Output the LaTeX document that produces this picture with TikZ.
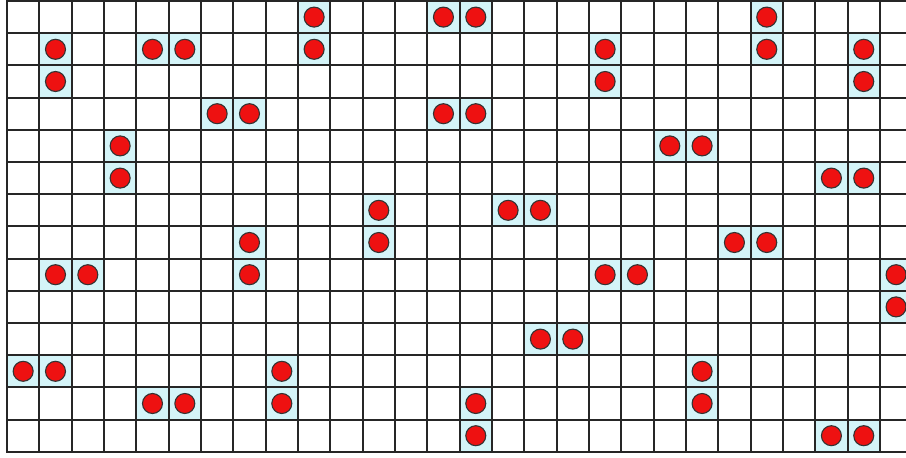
\documentclass[tikz,border=0pt]{standalone}
\definecolor{cellcyan}{HTML}{D4F4F8}
\definecolor{dotred}{HTML}{EE1111}
\tikzset{
  gridline/.style={line width=2pt, black!85},
  hlcell/.style={fill=cellcyan, draw=none},
  dot/.style={circle, fill=dotred, draw=black!80, line width=1.1pt, minimum size=20pt, inner sep=0pt}
}
\begin{document}
\begin{tikzpicture}[x=1pt,y=-1pt]
\useasboundingbox (0,0) rectangle (906,458);
\fill[white] (0,0) rectangle (906,458);
\def\xo{7}\def\dx{32.33}\def\yo{1}\def\dy{32.2}
\def\cells{9/0,9/1,23/0,23/1,1/1,1/2,18/1,18/2,26/1,26/2,3/4,3/5,11/6,11/7,7/7,7/8,27/8,27/9,8/11,8/12,21/11,21/12,14/12,14/13,
13/0,14/0,4/1,5/1,6/3,7/3,13/3,14/3,20/4,21/4,25/5,26/5,15/6,16/6,22/7,23/7,1/8,2/8,18/8,19/8,16/10,17/10,0/11,1/11,4/12,5/12,25/13,26/13}
\begin{scope}
\clip (0,0) rectangle (906,458);
\foreach \c/\r in \cells {
  \fill[hlcell] ({\xo+\c*\dx},{\yo+\r*\dy}) rectangle ({\xo+(\c+1)*\dx},{\yo+(\r+1)*\dy});
}
\foreach \i in {0,...,27} {
  \draw[gridline] ({\xo+\i*\dx},{\yo-1}) -- ({\xo+\i*\dx},{\yo+14*\dy+1});
}
\foreach \j in {0,...,14} {
  \draw[gridline] (\xo-1,{\yo+\j*\dy}) -- (910,{\yo+\j*\dy});
}
\end{scope}
\foreach \c/\r in \cells {
  \node[dot] (d-\c-\r) at ({\xo+(\c+0.5)*\dx},{\yo+(\r+0.5)*\dy}) {};
}
\end{tikzpicture}
\end{document}
